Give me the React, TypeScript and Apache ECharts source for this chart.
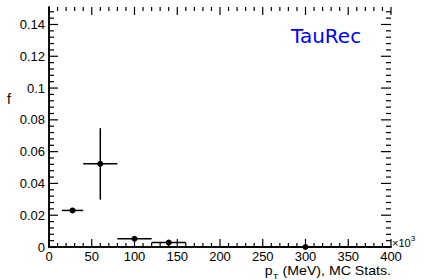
import React, { useEffect, useRef } from "react";
import * as echarts from "echarts";

// Data (x in units of 10^3 MeV)
const xCenter = [27.5, 60, 100, 140, 300];
const xLow = [15, 40, 80, 120, 200];
const xHigh = [40, 80, 120, 160, 400];
const fValues = [0.023, 0.0523, 0.0052, 0.0028, 0];
const fErrors = [0.0015, 0.0225, 0.0008, 0.0006, 0];

const xMin = 0;
const xMax = 400;
const xInterval = 50;
const xMinorSplit = 5;
const yMin = 0;
const yMax = 0.151;
const yInterval = 0.02;
const yMinorSplit = 5;

const FONT = "'Liberation Sans', Arial, sans-serif";

export default function App() {
  const ref = useRef<HTMLDivElement>(null);
  useEffect(() => {
    document.body.style.margin = "0";
    if (!ref.current) return;
    const chart = echarts.init(ref.current, undefined, { renderer: "svg" });
    const data = xCenter.map((x, i) => [x, fValues[i], xLow[i], xHigh[i], fErrors[i]]);
    const line = () => ({ show: true, lineStyle: { color: "#000", width: 1.5 } });
    const noTick = { show: false };
    const xBase = { type: "value", min: xMin, max: xMax, interval: xInterval, splitLine: { show: false }, axisTick: noTick, minorTick: noTick };
    const yBase = { type: "value", min: yMin, max: yMax, interval: yInterval, splitLine: { show: false }, axisTick: noTick, minorTick: noTick };
    const texts: any[] = [
      {
        type: "text",
        x: 291,
        y: 35.5,
        style: { text: "TauRec", fill: "#0000ff", font: "20px 'DejaVu Sans', sans-serif", align: "left", verticalAlign: "middle" },
      },
      {
        type: "text",
        x: 7,
        y: 99,
        style: { text: "f", fill: "#000", font: `14px ${FONT}`, align: "left", verticalAlign: "middle" },
      },
      {
        type: "text",
        x: 392,
        y: 241,
        style: {
          text: "{a|×10}{s|3}",
          fill: "#000",
          align: "left",
          verticalAlign: "middle",
          rich: {
            a: { fontFamily: FONT, fontSize: 11, fill: "#000", verticalAlign: "bottom" },
            s: { fontFamily: FONT, fontSize: 8, fill: "#000", padding: [0, 0, 6, 0], verticalAlign: "bottom" },
          },
        },
      },
      {
        type: "text",
        x: 391,
        y: 271,
        scaleX: 1.18,
        style: {
          text: "{a|p}{s|T}{a| (MeV), MC Stats.}",
          fill: "#000",
          align: "right",
          verticalAlign: "middle",
          rich: {
            a: { fontFamily: FONT, fontSize: 12, fill: "#000", verticalAlign: "bottom" },
            s: { fontFamily: FONT, fontSize: 8, fill: "#000", padding: [0, 0, -3, 0], verticalAlign: "bottom" },
          },
        },
      },
    ];
    chart.setOption({
      animation: false,
      backgroundColor: "#fff",
      grid: { left: 49, right: 32, top: 7, bottom: 33, containLabel: false },
      xAxis: [
        {
          ...xBase,
          position: "bottom",
          axisLine: line(),
          axisLabel: { color: "#000", fontFamily: FONT, fontSize: 13, margin: 3 },
        },
        { ...xBase, position: "top", axisLine: line(), axisLabel: { show: false } },
      ],
      yAxis: [
        {
          ...yBase,
          position: "left",
          axisLine: line(),
          axisLabel: {
            color: "#000",
            fontFamily: FONT,
            fontSize: 13,
            margin: 4,
            showMaxLabel: false,
            formatter: (v: number) => (v === 0 ? "0" : String(+v.toFixed(2))),
          },
        },
        { ...yBase, position: "right", axisLine: line(), axisLabel: { show: false } },
      ],
      series: [
        {
          type: "custom",
          xAxisIndex: 0,
          yAxisIndex: 0,
          clip: false,
          encode: { x: 0, y: 1 },
          data,
          renderItem: (params: any, api: any) => {
            const xc = api.value(0);
            const y = api.value(1);
            const lo = api.value(2);
            const hi = api.value(3);
            const e = api.value(4);
            const p = api.coord([xc, y]);
            const pl = api.coord([lo, y]);
            const ph = api.coord([hi, y]);
            const pt = api.coord([xc, y + e]);
            const pb = api.coord([xc, y - e]);
            return {
              type: "group",
              children: [
                { type: "line", shape: { x1: pl[0], y1: pl[1], x2: ph[0], y2: ph[1] }, style: { stroke: "#000", lineWidth: 1.5 } },
                { type: "line", shape: { x1: pt[0], y1: pt[1], x2: pb[0], y2: pb[1] }, style: { stroke: "#000", lineWidth: 1.5 } },
                { type: "circle", shape: { cx: p[0], cy: p[1], r: 3 }, style: { fill: "#000" } },
              ],
            };
          },
        },
      ],
      graphic: texts,
    });

    // ROOT-style frame ticks on all four sides, placed through the chart's own scales
    const tickLines: any[] = [];
    const finder = { gridIndex: 0 };
    const xStep = xInterval / xMinorSplit;
    for (let k = 0; k * xStep <= xMax + 1e-9; k++) {
      const v = k * xStep;
      const len = k % xMinorSplit === 0 ? 8 : 4;
      const b = chart.convertToPixel(finder, [v, yMin]) as number[];
      const t = chart.convertToPixel(finder, [v, yMax]) as number[];
      tickLines.push({ type: "line", silent: true, z: 10, shape: { x1: b[0], y1: b[1], x2: b[0], y2: b[1] - len }, style: { stroke: "#000", lineWidth: 1.2 } });
      tickLines.push({ type: "line", silent: true, z: 10, shape: { x1: t[0], y1: t[1], x2: t[0], y2: t[1] + len }, style: { stroke: "#000", lineWidth: 1.2 } });
    }
    const yStep = yInterval / yMinorSplit;
    for (let k = 0; k * yStep <= yMax + 1e-9; k++) {
      const v = k * yStep;
      const major = k % yMinorSplit === 0;
      const l = chart.convertToPixel(finder, [xMin, v]) as number[];
      const r = chart.convertToPixel(finder, [xMax, v]) as number[];
      tickLines.push({ type: "line", silent: true, z: 10, shape: { x1: l[0], y1: l[1], x2: l[0] + (major ? 9 : 5), y2: l[1] }, style: { stroke: "#000", lineWidth: 1.2 } });
      tickLines.push({ type: "line", silent: true, z: 10, shape: { x1: r[0], y1: r[1], x2: r[0] - (major ? 10 : 5), y2: r[1] }, style: { stroke: "#000", lineWidth: 1.2 } });
    }
    chart.setOption({ graphic: [...texts, ...tickLines] });

    return () => chart.dispose();
  }, []);
  return <div ref={ref} style={{ width: 423, height: 280 }} />;
}
